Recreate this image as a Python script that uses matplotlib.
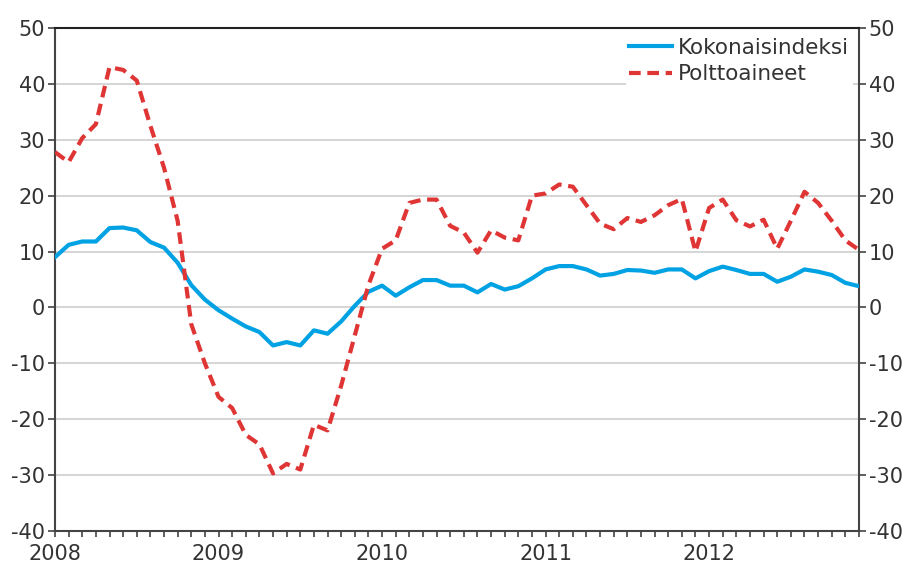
import matplotlib
matplotlib.use("Agg")
import matplotlib.pyplot as plt
from matplotlib.ticker import FixedLocator, MultipleLocator

plt.rcParams["axes.unicode_minus"] = False

# Monthly data, Jan 2008 .. Dec 2012 (annual change, %)
years = ["2008", "2009", "2010", "2011", "2012"]

kokonaisindeksi = [
    9.0, 11.2, 11.8, 11.8, 14.2, 14.3, 13.8, 11.7, 10.7, 8.0, 4.0, 1.4,
    -0.5, -2.0, -3.4, -4.4, -6.8, -6.2, -6.8, -4.1, -4.7, -2.5, 0.3, 2.8,
    3.9, 2.1, 3.6, 4.9, 4.9, 3.9, 3.9, 2.7, 4.2, 3.2, 3.8, 5.2,
    6.8, 7.4, 7.4, 6.8, 5.7, 6.0, 6.7, 6.6, 6.2, 6.8, 6.8, 5.2,
    6.5, 7.3, 6.7, 6.0, 6.0, 4.6, 5.5, 6.8, 6.4, 5.8, 4.4, 3.8,
]

polttoaineet = [
    27.8, 26.0, 30.3, 32.8, 43.0, 42.5, 40.6, 32.5, 25.0, 15.5, -3.0, -10.0,
    -16.0, -18.0, -22.8, -24.5, -29.7, -28.0, -29.0, -21.0, -22.0, -14.0, -5.0, 4.0,
    10.5, 12.0, 18.7, 19.3, 19.3, 14.6, 13.4, 9.8, 13.8, 12.5, 12.0, 20.0,
    20.4, 22.0, 21.6, 18.3, 15.0, 14.0, 16.0, 15.3, 16.5, 18.3, 19.4, 10.0,
    17.8, 19.3, 15.6, 14.5, 15.7, 10.5, 15.5, 20.7, 18.7, 15.5, 12.0, 10.3,
]

months = list(range(len(kokonaisindeksi)))

fig = plt.figure(figsize=(9.08, 5.67), dpi=100)
ax = fig.add_axes([55 / 908, 36 / 567, (859 - 55) / 908, (531 - 28) / 567])

blue = "#00a2e3"
red = "#e03535"
ax.plot(months, kokonaisindeksi, color=blue, lw=3.0, label="Kokonaisindeksi",
        solid_joinstyle="round", zorder=3)
ax.plot(months, polttoaineet, color=red, lw=3.0, dashes=(2.8, 1.6),
        label="Polttoaineet", zorder=3)

ax.set_xlim(0, len(months) - 1)
ax.set_ylim(-40, 50)
ax.yaxis.set_major_locator(MultipleLocator(10))
ax.grid(axis="y", color="#d2d2d2", lw=1.3, zorder=0)
ax.set_axisbelow(True)

ax.xaxis.set_major_locator(FixedLocator([0, 12, 24, 36, 48]))
ax.set_xticklabels(years)
ax.xaxis.set_minor_locator(MultipleLocator(1))
ax.tick_params(axis="x", which="both", direction="out", length=4, width=1.2,
               color="#444444", labelsize=15, pad=5, labelcolor="#333333")

ax.tick_params(axis="y", direction="out", length=5, width=1.2, color="#444444",
               labelsize=15, labelcolor="#333333", pad=2,
               left=True, right=True, labelleft=True, labelright=True)

for s in ax.spines.values():
    s.set_color("#444444")
    s.set_linewidth(1.5)
ax.spines["top"].set_color("#222222")

leg = ax.legend(loc="upper right", frameon=True, fontsize=15.5, handlelength=2.0,
                handletextpad=0.3, labelspacing=0.3, borderpad=0.15,
                borderaxespad=0.3, fancybox=False)
leg.get_frame().set_edgecolor("none")
leg.get_frame().set_facecolor("white")
leg.get_frame().set_alpha(1.0)
for t in leg.get_texts():
    t.set_color("#333333")

fig.savefig("out.png", dpi=100)
